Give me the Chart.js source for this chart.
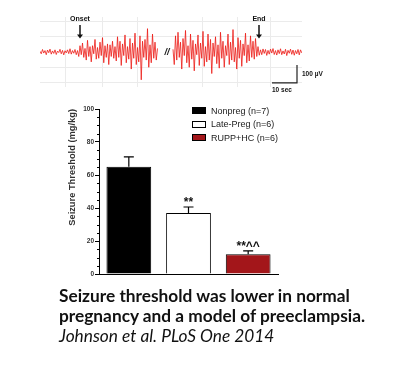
<html>
<head>
<meta charset="UTF-8">
<script src="https://cdn.jsdelivr.net/npm/chart.js@4.4.0/dist/chart.umd.min.js"></script>
<style>
  body { margin: 0; background: #fff; width: 400px; height: 378px; position: relative; overflow: hidden; font-family: 'Liberation Sans', Arial, sans-serif; }
  #eeg { position: absolute; left: 30px; top: 5px; }
  #bars { position: absolute; left: 55px; top: 95px; }
  .legend { position: absolute; left: 192px; top: 104px; font-size: 9px; color: #222; }
  .legend .row { height: 13.5px; display: flex; align-items: center; }
  .legend .box { width: 14px; height: 7px; margin-right: 5px; box-sizing: border-box; border: 1px solid #000; }
  .caption { position: absolute; left: 59px; top: 286px; font-family: Lato, sans-serif; font-size: 17.3px; line-height: 20px; color: #111; white-space: nowrap; }
  .caption b { font-weight: 700; }
  .caption i { font-weight: 400; }
</style>
</head>
<body>
<canvas id="eeg" width="330" height="95"></canvas>
<canvas id="bars" width="280" height="190"></canvas>
<div class="legend" id="legend"></div>
<div class="caption"><b>Seizure threshold was lower in normal<br>pregnancy and a model of preeclampsia.</b><br><i>Johnson et al. PLoS One 2014</i></div>

<script>
// ---- EEG trace (µV), sampled every 0.5 s ----
var dt = 0.5;
var seg1Start = 0;
var seg1 = [4,-10,14,-6,8,-15,11,-4,16,-12,6,-8,12,-14,5,-3,15,-10,9,-16,7,-5,12,-9,18,-12,8,-7,14,-15,8,
            -25,35,-15,50,-30,20,-45,65,-25,30,-55,35,-10,70,-40,25,-35,55,-20,80,-60,35,-30,45,-70,40,-25,60,-35,30,
            -50,85,-30,60,-75,45,-20,95,-60,30,-40,75,-95,50,-35,105,-70,25,-55,90,-155,60,-30,70,-45,130,-85,40,-60,100,-35,55,-45,20];
var seg2Start = 53.2;
var seg2 = [15,-70,90,-45,110,-30,55,-95,75,-20,120,-60,35,-85,100,-40,65,-105,45,-15,
            95,-75,50,-35,115,-80,30,-55,100,-45,70,-120,50,-25,85,-65,40,-90,110,-35,
            60,-85,35,-20,100,-70,55,-45,125,-55,25,-95,80,-35,65,-80,45,-20,105,-60,
            40,-50,90,-30,60,-40,75,-25,30,
            -18,12,-15,17,-8,14,-19,9,-12,16,-6,19,-14,8,-17,12,-9,18,-15,6,
            -11,15,-20,9,-7,16,-13,11,-18,8,-10,14,-16,12,-5];
var markerTimes = [16, 87.6];
var markerLabels = ['Onset', 'End'];
var breakTime = 50.8;
var gridTimes = [10, 24.8, 38.8, 64.8, 78.8, 92];
var gridVolts = [-170, -85, 85, 170];
var scaleBarTime = 92.8;   // start of 10 sec bar
var scaleBarVolt = -172;   // bottom of 100 µV bar

// ---- bar chart ----
var groups = ['Nonpreg (n=7)', 'Late-Preg (n=6)', 'RUPP+HC (n=6)'];
var means = [65, 37, 12];
var sems = [6, 3.6, 2];
var sigLabels = ['', '**', '**^^'];
var fillColors = ['#000000', '#ffffff', '#a3161a'];

function toPts(arr, start) {
  return arr.map(function(v, i){ return {x: start + i * dt, y: v}; });
}

var eegMarks = {
  id: 'eegMarks',
  afterDraw: function(chart) {
    var ctx = chart.ctx, x = chart.scales.x, y = chart.scales.y;
    ctx.save();
    ctx.fillStyle = '#111';
    ctx.strokeStyle = '#111';
    ctx.textAlign = 'center';
    for (var i = 0; i < markerTimes.length; i++) {
      var px = x.getPixelForValue(markerTimes[i]);
      ctx.font = 'bold 7px "Liberation Sans"';
      ctx.fillText(markerLabels[i], px, y.getPixelForValue(170));
      ctx.lineWidth = 1.5;
      ctx.beginPath();
      ctx.moveTo(px, y.getPixelForValue(150));
      ctx.lineTo(px, y.getPixelForValue(85));
      ctx.stroke();
      var tip = y.getPixelForValue(75);
      ctx.beginPath();
      ctx.moveTo(px - 3, tip - 4);
      ctx.lineTo(px + 3, tip - 4);
      ctx.lineTo(px, tip);
      ctx.closePath();
      ctx.fill();
    }
    ctx.font = 'italic bold 9px "Liberation Sans"';
    ctx.fillText('//', x.getPixelForValue(breakTime), y.getPixelForValue(0) + 3);
    // scale bars
    var x0 = x.getPixelForValue(scaleBarTime), x1 = x.getPixelForValue(scaleBarTime + 10);
    var yb = y.getPixelForValue(scaleBarVolt), yt = y.getPixelForValue(scaleBarVolt + 100);
    ctx.lineWidth = 1.2;
    ctx.strokeStyle = '#222';
    ctx.beginPath();
    ctx.moveTo(x0, yb); ctx.lineTo(x1, yb); ctx.lineTo(x1, yt);
    ctx.stroke();
    ctx.font = 'bold 6.5px "Liberation Sans"';
    ctx.textAlign = 'left';
    ctx.fillText('100 µV', x1 + 5, (yb + yt) / 2 + 2);
    ctx.fillText('10 sec', x0, yb + 9);
    ctx.restore();
  }
};

new Chart(document.getElementById('eeg'), {
  type: 'line',
  data: {
    datasets: [
      {data: toPts(seg1, seg1Start), borderColor: 'rgba(236,28,24,0.9)', borderWidth: 0.9, pointRadius: 0, tension: 0},
      {data: toPts(seg2, seg2Start), borderColor: 'rgba(236,28,24,0.9)', borderWidth: 0.9, pointRadius: 0, tension: 0}
    ]
  },
  options: {
    responsive: false,
    animation: false,
    layout: {padding: {left: 10, right: 58, top: 12, bottom: 13}},
    plugins: {legend: {display: false}, tooltip: {enabled: false}},
    scales: {
      x: {type: 'linear', min: 0, max: 104.8,
          ticks: {display: false}, grid: {color: '#ebebeb', drawTicks: false}, border: {display: false},
          afterBuildTicks: function(s){ s.ticks = gridTimes.map(function(v){ return {value: v}; }); }},
      y: {min: -195, max: 195,
          ticks: {display: false}, grid: {color: '#ebebeb', drawTicks: false}, border: {display: false},
          afterBuildTicks: function(s){ s.ticks = gridVolts.map(function(v){ return {value: v}; }); }}
    }
  },
  plugins: [eegMarks]
});

var errorBars = {
  id: 'errorBars',
  afterDatasetsDraw: function(chart) {
    var ctx = chart.ctx, y = chart.scales.y;
    var meta = chart.getDatasetMeta(0);
    ctx.save();
    ctx.strokeStyle = '#000';
    ctx.fillStyle = '#111';
    ctx.lineWidth = 1.2;
    for (var i = 0; i < means.length; i++) {
      var bx = meta.data[i].x;
      var top = y.getPixelForValue(means[i] + sems[i]);
      var base = y.getPixelForValue(means[i]);
      ctx.beginPath();
      ctx.moveTo(bx, base); ctx.lineTo(bx, top);
      ctx.moveTo(bx - 5, top); ctx.lineTo(bx + 5, top);
      ctx.stroke();
      if (sigLabels[i]) {
        ctx.font = 'bold 12px "Liberation Sans"';
        ctx.textAlign = 'center';
        ctx.fillText(sigLabels[i], bx, top - 1);
      }
    }
    // minor ticks every 5
    var left = chart.scales.y.right;
    ctx.lineWidth = 1;
    for (var v = 5; v < 100; v += 5) {
      if (v % 20 === 0) continue;
      var py = Math.round(y.getPixelForValue(v)) + 0.5;
      ctx.beginPath();
      ctx.moveTo(left - 2, py); ctx.lineTo(left, py);
      ctx.stroke();
    }
    ctx.restore();
  }
};

new Chart(document.getElementById('bars'), {
  type: 'bar',
  data: {
    labels: groups,
    datasets: [{data: means, backgroundColor: fillColors, borderColor: '#000', borderWidth: 1,
                barPercentage: 0.75, categoryPercentage: 1}]
  },
  options: {
    responsive: false,
    animation: false,
    layout: {padding: {left: 8, top: 14, right: 57, bottom: 11}},
    plugins: {legend: {display: false}, tooltip: {enabled: false}},
    scales: {
      x: {grid: {display: false, drawTicks: false}, ticks: {display: false}, border: {color: '#000', width: 1}},
      y: {min: 0, max: 100,
          ticks: {stepSize: 20, font: {size: 6.5, weight: 'bold', family: 'Liberation Sans'}, color: '#333', padding: 1},
          grid: {drawOnChartArea: false, tickLength: 4, color: '#000'},
          border: {color: '#000', width: 1},
          title: {display: true, text: 'Seizure Threshold (mg/kg)', align: 'end',
                  font: {size: 9.3, weight: 'bold', family: 'Liberation Sans'}, color: '#333', padding: {top: 4, bottom: 0}},
          afterFit: function(s){ s.width = 36; }}
    }
  },
  plugins: [errorBars]
});

// legend built from the same arrays
var lg = document.getElementById('legend');
groups.forEach(function(g, i){
  var row = document.createElement('div');
  row.className = 'row';
  var b = document.createElement('span');
  b.className = 'box';
  b.style.background = fillColors[i];
  row.appendChild(b);
  row.appendChild(document.createTextNode(g));
  lg.appendChild(row);
});
</script>
</body>
</html>
